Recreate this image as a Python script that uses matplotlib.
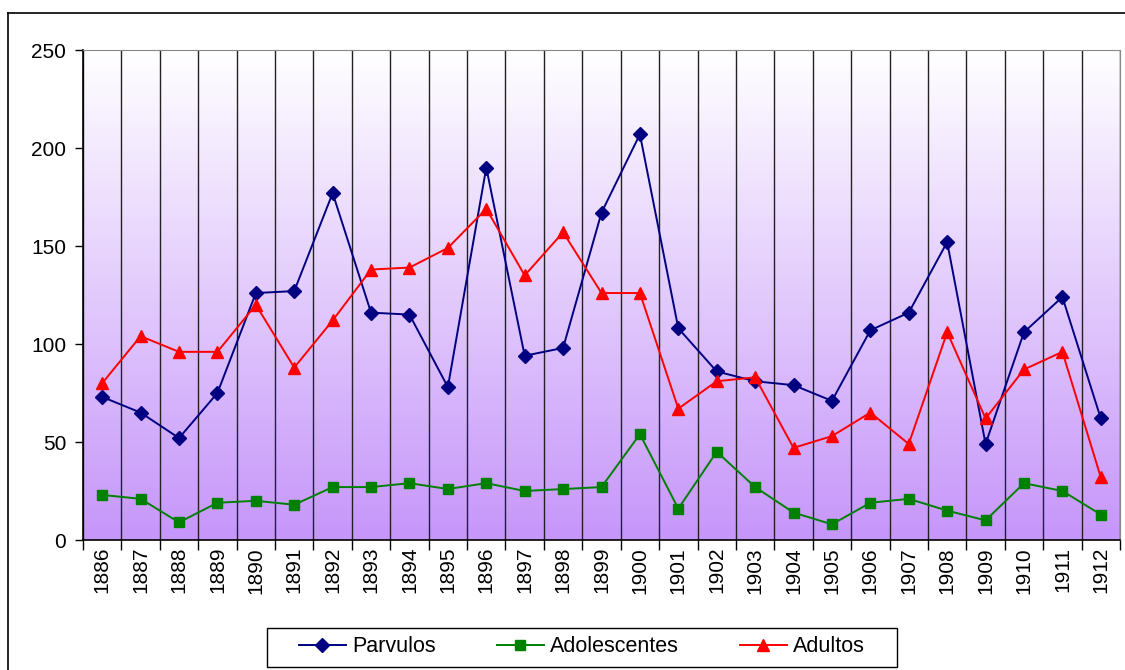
import numpy as np
import matplotlib
matplotlib.use("Agg")
import matplotlib.pyplot as plt
from matplotlib.colors import LinearSegmentedColormap
from matplotlib.lines import Line2D
from matplotlib.patches import Rectangle

plt.rcParams['font.family'] = ['Liberation Sans', 'DejaVu Sans']

# Data
years = list(range(1886, 1913))
parvulos = [73, 65, 52, 75, 126, 127, 177, 116, 115, 78, 190, 94, 98, 167, 207,
            108, 86, 81, 79, 71, 107, 116, 152, 49, 106, 124, 62]
adolescentes = [23, 21, 9, 19, 20, 18, 27, 27, 29, 26, 29, 25, 26, 27, 54,
                16, 45, 27, 14, 8, 19, 21, 15, 10, 29, 25, 13]
adultos = [80, 104, 96, 96, 120, 88, 112, 138, 139, 149, 169, 135, 157, 126, 126,
           67, 81, 83, 47, 53, 65, 49, 106, 62, 87, 96, 32]

W, H = 1125, 670
fig = plt.figure(figsize=(W / 100, H / 100), dpi=100)
ax = fig.add_axes([83 / W, 130 / H, (1120 - 83) / W, 490 / H])

x = np.arange(len(years))
n = len(years)

# gradient background: white at top -> light purple at bottom
cmap = LinearSegmentedColormap.from_list("bg", ["#ffffff", "#c696fa"])
grad = np.linspace(1, 0, 256).reshape(-1, 1)
ax.imshow(grad, cmap=cmap, aspect="auto", extent=(-0.5, n - 0.5, 0, 250),
          zorder=0, origin="lower", vmin=0, vmax=1)

# vertical separators between categories
for b in np.arange(-0.5, n, 1.0):
    ax.axvline(b, color="#222222", lw=1.0, zorder=1)

ax.plot(x, parvulos, color="#000080", marker="D", ms=7.5, lw=1.4, label="Parvulos", zorder=3)
ax.plot(x, adolescentes, color="#008000", marker="s", ms=7, lw=1.4, label="Adolescentes", zorder=3)
ax.plot(x, adultos, color="#ff0000", marker="^", ms=9, lw=1.4, label="Adultos", zorder=3)

ax.set_xlim(-0.5, n - 0.5)
ax.set_ylim(0, 250)
ax.set_yticks([0, 50, 100, 150, 200, 250])
ax.tick_params(axis="y", labelsize=15, length=6, width=1, direction="out", pad=6)

ax.set_xticks(x)
ax.set_xticklabels([str(y) for y in years], rotation=90, fontsize=15)
ax.set_xticks(np.arange(-0.5, n, 1.0), minor=True)
ax.tick_params(axis="x", which="major", length=0, pad=5)
ax.tick_params(axis="x", which="minor", length=7, width=1, direction="out")

for s in ["top", "right"]:
    ax.spines[s].set_color("#888888")
for s in ["left", "bottom"]:
    ax.spines[s].set_color("black")
    ax.spines[s].set_linewidth(1.2)

leg = fig.legend(loc="center", bbox_to_anchor=(582 / W, 1 - 647 / H), ncol=3,
                 fontsize=15.5, frameon=False,
                 handlelength=2.2, columnspacing=2.8, borderpad=0.35, handletextpad=0.3,
                 borderaxespad=0)

# legend box
fig.add_artist(Rectangle((267 / W, 1 - 667 / H), (897 - 267) / W, 39 / H,
                         transform=fig.transFigure, fill=False, edgecolor="black", lw=1.0))

# outer chart frame
fig.add_artist(Line2D([8 / W, 8 / W], [0, 1 - 13 / H], color="black", lw=1.2,
                      transform=fig.transFigure))
fig.add_artist(Line2D([8 / W, 1], [1 - 13 / H, 1 - 13 / H], color="black", lw=1.2,
                      transform=fig.transFigure))

fig.savefig("out.png", dpi=100)
